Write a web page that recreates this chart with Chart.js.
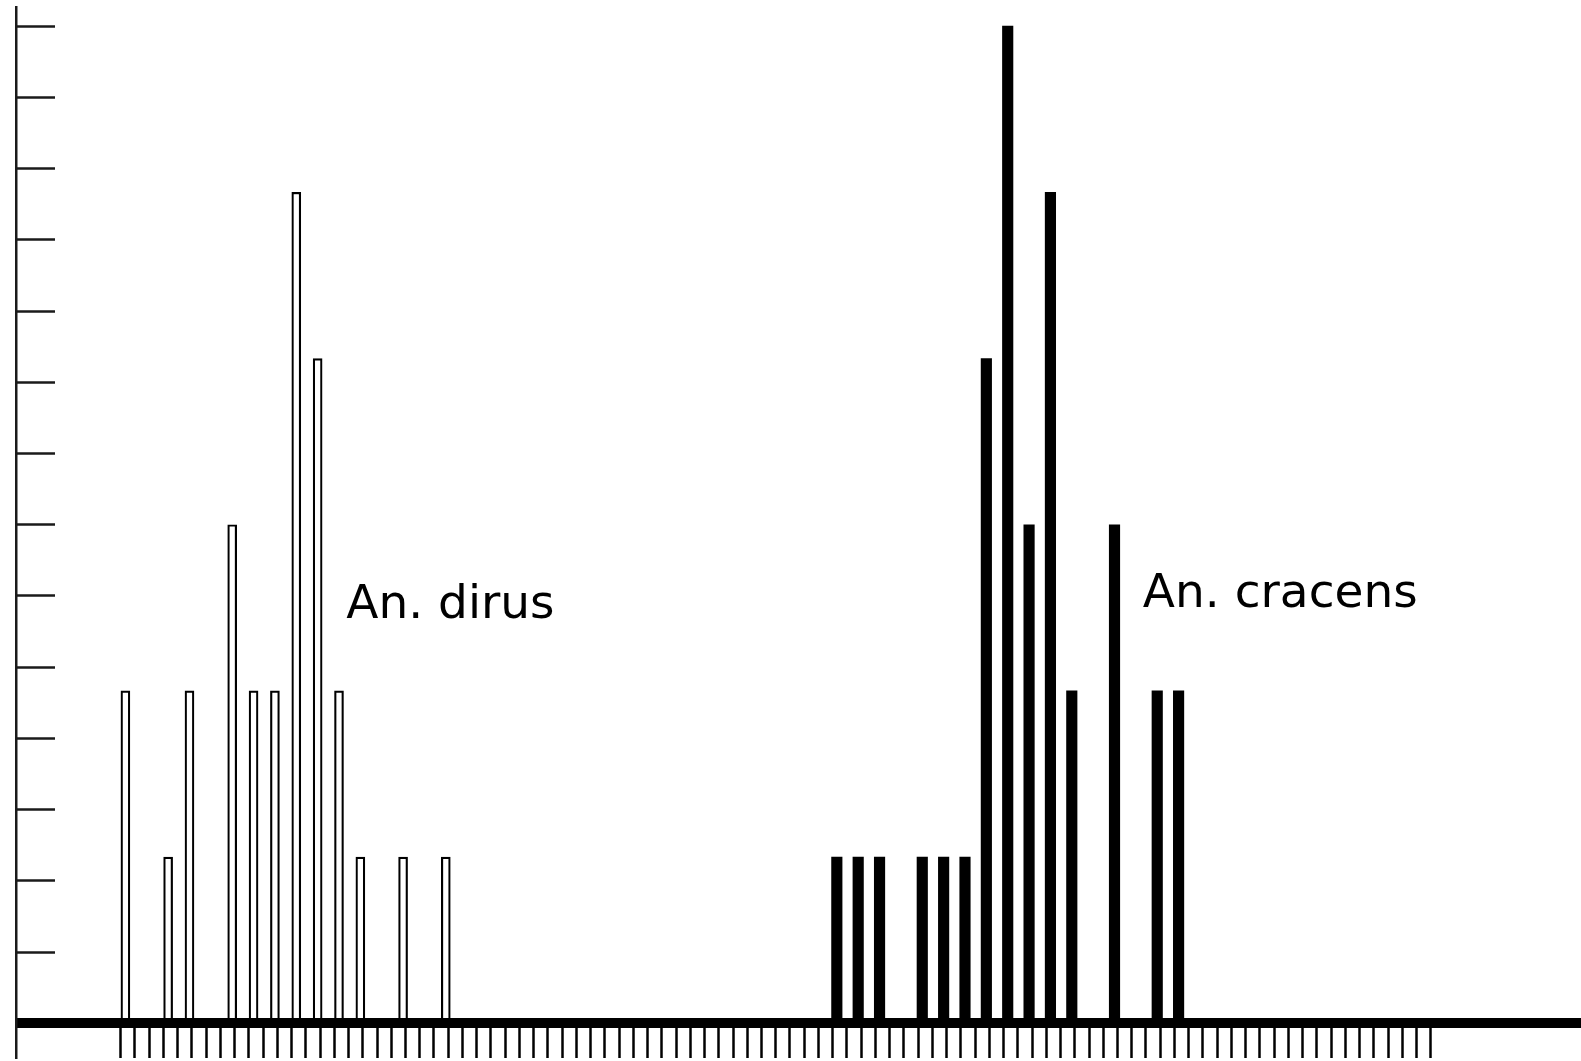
<!DOCTYPE html>
<html>
<head>
<meta charset="utf-8">
<script src="https://cdn.jsdelivr.net/npm/chart.js@4/dist/chart.umd.min.js"></script>
<style>
  html, body { margin: 0; padding: 0; background: #ffffff; }
  canvas { display: block; }
</style>
</head>
<body>
<canvas id="chart" width="1581" height="1061"></canvas>
<script>
// Frequency histograms of the two species, bins given by their start on the tick scale
const dirusBins     = [0, 3, 4.5, 7.5, 9, 10.5, 12, 13.5, 15, 16.5, 19.5, 22.5];
const dirusCounts   = [2, 1, 2,   3,   2, 2,    5,  4,    2,  1,    1,    1];
const cracensBins   = [50, 51.5, 53, 56, 57.5, 59, 60.5, 62, 63.5, 65, 66.5, 69.5, 72.5, 74];
const cracensCounts = [1,  1,    1,  1,  1,    1,  4,    6,  3,    5,  2,    3,    2,    2];

// Tick marks: one per unit along x, fourteen steps up to a count of 6 along y
const xTicks = [
  0, 1, 2, 3, 4, 5, 6, 7, 8, 9, 10, 11, 12, 13, 14, 15, 16, 17, 18, 19,
  20, 21, 22, 23, 24, 25, 26, 27, 28, 29, 30, 31, 32, 33, 34, 35, 36, 37, 38, 39,
  40, 41, 42, 43, 44, 45, 46, 47, 48, 49, 50, 51, 52, 53, 54, 55, 56, 57, 58, 59,
  60, 61, 62, 63, 64, 65, 66, 67, 68, 69, 70, 71, 72, 73, 74, 75, 76, 77, 78, 79,
  80, 81, 82, 83, 84, 85, 86, 87, 88, 89, 90, 91, 92
];
const yTicks = [0, 3/7, 6/7, 9/7, 12/7, 15/7, 18/7, 3, 24/7, 27/7, 30/7, 33/7, 36/7, 39/7, 6];

const speciesNames = ['An. dirus', 'An. cracens'];

// Axis extents and small drawing offsets (bars sit just right of their bin tick)
const X_MIN = -7.0014, X_MAX = 102.549, Y_AXIS_AT = -7.353;
const Y_MIN = -0.2088, Y_MAX = 6.115;
const DIRUS_SHIFT = 0.33, CRACENS_SHIFT = 0.29;
const LABEL_ANCHORS = [{ x: 15.84, y: 2.437 }, { x: 71.78, y: 2.507 }];

const INK = '#000000';

const toPoints = (bins, counts, shift) => bins.map((b, i) => ({ x: b + shift, y: counts[i] }));

const speciesLabels = {
  id: 'speciesLabels',
  afterDraw(chart) {
    const { ctx, scales } = chart;
    ctx.save();
    ctx.fillStyle = INK;
    ctx.font = '47px "DejaVu Sans"';
    ctx.textAlign = 'left';
    ctx.textBaseline = 'alphabetic';
    speciesNames.forEach((name, i) => {
      const a = LABEL_ANCHORS[i];
      ctx.fillText(name, scales.x.getPixelForValue(a.x), scales.y.getPixelForValue(a.y));
    });
    ctx.restore();
  }
};

new Chart(document.getElementById('chart'), {
  type: 'bar',
  data: {
    datasets: [
      {
        label: speciesNames[0],
        data: toPoints(dirusBins, dirusCounts, DIRUS_SHIFT),
        backgroundColor: '#ffffff',
        borderColor: INK,
        borderWidth: 2.2,
        barThickness: 9,
        grouped: false
      },
      {
        label: speciesNames[1],
        data: toPoints(cracensBins, cracensCounts, CRACENS_SHIFT),
        backgroundColor: INK,
        borderWidth: 0,
        barThickness: 10.5,
        grouped: false
      }
    ]
  },
  options: {
    responsive: false,
    animation: false,
    devicePixelRatio: 1,
    layout: { padding: { left: 21, right: 0, top: 7, bottom: 3 } },
    plugins: {
      legend: { display: false },
      tooltip: { enabled: false },
      title: { display: false }
    },
    scales: {
      x: {
        type: 'linear',
        position: { y: 0 },
        min: X_MIN,
        max: X_MAX,
        offset: false,
        afterBuildTicks: (scale) => { scale.ticks = xTicks.map(v => ({ value: v })); },
        ticks: { display: false },
        grid: {
          offset: false,
          drawOnChartArea: false,
          drawTicks: true,
          tickLength: 30,
          tickWidth: 2.5,
          tickColor: INK
        },
        border: { display: true, color: INK, width: 10, z: 1 }
      },
      y: {
        type: 'linear',
        position: { x: Y_AXIS_AT },
        min: Y_MIN,
        max: Y_MAX,
        afterBuildTicks: (scale) => { scale.ticks = yTicks.map(v => ({ value: v })); },
        ticks: { display: false },
        grid: {
          drawOnChartArea: false,
          drawTicks: true,
          tickLength: -40,
          tickWidth: 2.5,
          tickColor: '#1a1a1a'
        },
        border: { display: true, color: '#1a1a1a', width: 2.5, z: 1 }
      }
    }
  },
  plugins: [speciesLabels]
});
</script>
</body>
</html>
